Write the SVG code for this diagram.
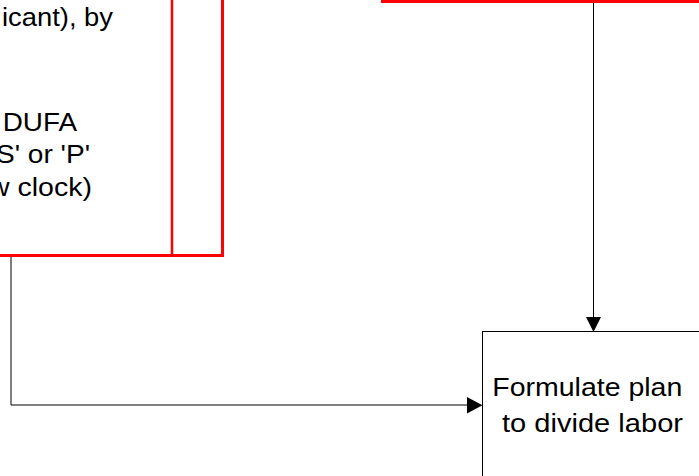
<svg xmlns="http://www.w3.org/2000/svg" width="699" height="476" viewBox="0 0 699 476">
  <style>
    .red { fill: none; stroke: #FF0000; stroke-width: 3; }
    .redin { fill: none; stroke: #FF0000; stroke-width: 2.5; }
    .box { fill: #FFFFFF; stroke: #000000; stroke-width: 1; }
    .conn { fill: none; stroke: #000000; stroke-width: 1; }
    .head { fill: #000000; stroke: none; }
    .lbl { font-family: "Liberation Sans", Arial, sans-serif; font-size: 26.5px; fill: #000000; }
  </style>
  <rect width="699" height="476" fill="#FFFFFF"/>
  <g id="node-left">
    <rect class="red" x="-20" y="-20" width="242.5" height="275.5"/>
    <line class="redin" x1="172" y1="-20" x2="172" y2="255.5"/>
    <text class="lbl" x="2" y="26" textLength="111" lengthAdjust="spacingAndGlyphs">icant), by</text>
    <text class="lbl" x="2.7" y="130.7" textLength="74.3" lengthAdjust="spacingAndGlyphs">DUFA</text>
    <text class="lbl" x="-4" y="163.3" textLength="94" lengthAdjust="spacingAndGlyphs">S' or 'P'</text>
    <text class="lbl" x="-11" y="195.5" textLength="103" lengthAdjust="spacingAndGlyphs">w clock)</text>
  </g>
  <g id="node-top">
    <rect class="red" x="382.5" y="-40" width="340" height="41.5"/>
    <line class="redin" x1="432.5" y1="-40" x2="432.5" y2="1.5"/>
  </g>
  <g id="node-formulate">
    <rect class="box" x="482.5" y="331.5" width="240" height="170"/>
    <text class="lbl" x="492.3" y="396" textLength="190" lengthAdjust="spacingAndGlyphs">Formulate plan</text>
    <text class="lbl" x="502" y="432" textLength="181" lengthAdjust="spacingAndGlyphs">to divide labor</text>
  </g>
  <g id="connectors">
    <polyline class="conn" points="11,257 11,405 467,405"/>
    <polygon class="head" points="467,397 467,413.5 482.5,405.3"/>
    <line class="conn" x1="593.5" y1="3" x2="593.5" y2="318"/>
    <polygon class="head" points="586,317 601,317 593.5,332"/>
  </g>
</svg>
